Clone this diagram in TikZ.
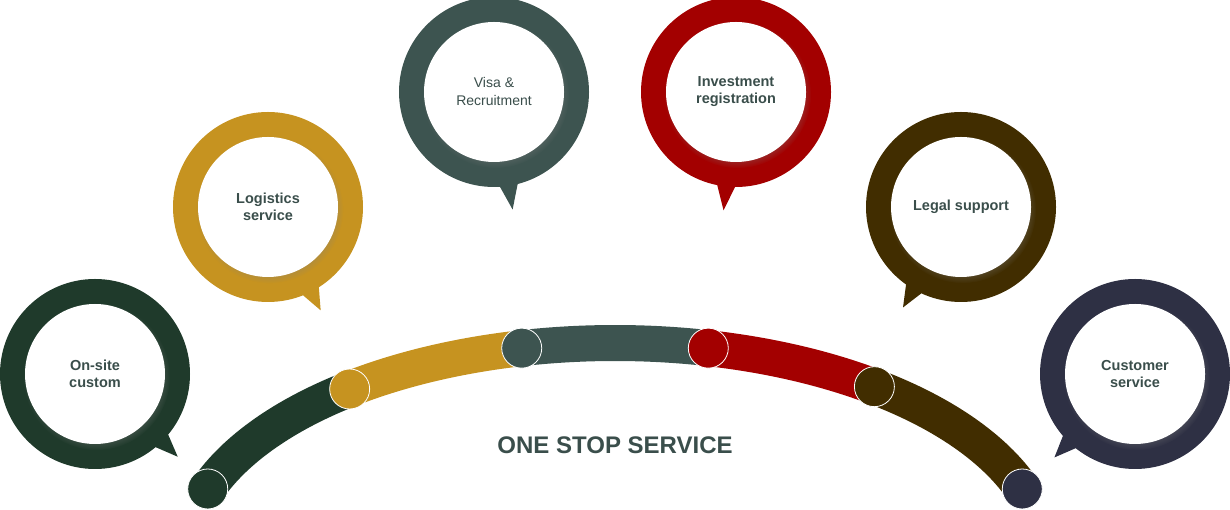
\documentclass[tikz,border=0pt]{standalone}
\usepackage{fontspec}
\setmainfont{Liberation Sans}
\usepackage{xcolor}
\definecolor{pine}{RGB}{31,58,43}
\definecolor{mustard}{RGB}{198,147,32}
\definecolor{slate}{RGB}{61,84,80}
\definecolor{crimson}{RGB}{163,0,0}
\definecolor{umber}{RGB}{65,45,0}
\definecolor{ink}{RGB}{46,48,68}
\definecolor{labelgray}{RGB}{58,78,75}
\usetikzlibrary{calc}
\usetikzlibrary{shadows}

\tikzset{
  hole/.style={circle,fill=white,minimum size=140pt,inner sep=0pt,align=center,
    text=labelgray,font=\fontsize{14.5}{17}\selectfont\bfseries,
    circular drop shadow={shadow xshift=1.5pt,shadow yshift=-2.5pt,shadow scale=1.05,opacity=0.4}},
  band/.style={line width=36pt},
  joint/.style={circle,minimum size=40pt,inner sep=0pt,draw=white,line width=0.8pt},
}

\begin{document}
\begin{tikzpicture}[x=1pt,y=1pt]
\useasboundingbox (0,0) rectangle (1230,510);
\clip (0,0) rectangle (1230,510);

% bubble centres
\coordinate (c1) at (95,136);
\coordinate (c2) at (268,303);
\coordinate (c3) at (494,418);
\coordinate (c4) at (736,418);
\coordinate (c5) at (961,303);
\coordinate (c6) at (1135,136);

% rings with tails
\fill[pine] (c1) circle (95pt) ($(c1)+(-51:93pt)$) -- ($(c1)+(-45:117pt)$) -- ($(c1)+(-39:93pt)$) -- cycle;
\fill[mustard] (c2) circle (95pt) ($(c2)+(-69:93pt)$) -- ($(c2)+(-63:116pt)$) -- ($(c2)+(-57:93pt)$) -- cycle;
\fill[slate] (c3) circle (95pt) ($(c3)+(-87:93pt)$) -- ($(c3)+(-81:119pt)$) -- ($(c3)+(-75:93pt)$) -- cycle;
\fill[crimson] (c4) circle (95pt) ($(c4)+(-102:93pt)$) -- ($(c4)+(-96:119pt)$) -- ($(c4)+(-90:93pt)$) -- cycle;
\fill[umber] (c5) circle (95pt) ($(c5)+(-126:93pt)$) -- ($(c5)+(-120:116pt)$) -- ($(c5)+(-114:93pt)$) -- cycle;
\fill[ink] (c6) circle (95pt) ($(c6)+(-140:93pt)$) -- ($(c6)+(-134:116pt)$) -- ($(c6)+(-128:93pt)$) -- cycle;

% labels
\node[hole] (onsite) at (c1) {On-site\\custom};
\node[hole] (logistics) at (c2) {Logistics\\service};
\node[hole,font=\fontsize{14}{18}\selectfont] (visa) at (c3) {Visa \&\\Recruitment};
\node[hole] (invest) at (c4) {Investment\\registration};
\node[hole] (legal) at (c5) {Legal support};
\node[hole] (customer) at (c6) {Customer\\service};

% the arc
\coordinate (arcc) at (615,-50);
\draw[band,pine] ($(arcc)+(160.9:431pt and 217pt)$) arc[start angle=160.9,end angle=128,x radius=431pt,y radius=217pt];
\draw[band,mustard] ($(arcc)+(128:431pt and 217pt)$) arc[start angle=128,end angle=102.5,x radius=431pt,y radius=217pt];
\draw[band,slate] ($(arcc)+(102.5:431pt and 217pt)$) arc[start angle=102.5,end angle=77.5,x radius=431pt,y radius=217pt];
\draw[band,crimson] ($(arcc)+(77.5:431pt and 217pt)$) arc[start angle=77.5,end angle=53,x radius=431pt,y radius=217pt];
\draw[band,umber] ($(arcc)+(53:431pt and 217pt)$) arc[start angle=53,end angle=19.1,x radius=431pt,y radius=217pt];

\node[joint,fill=pine] (j1) at ($(arcc)+(160.9:431pt and 217pt)$) {};
\node[joint,fill=mustard] (j2) at ($(arcc)+(128:431pt and 217pt)$) {};
\node[joint,fill=slate] (j3) at ($(arcc)+(102.5:431pt and 217pt)$) {};
\node[joint,fill=crimson] (j4) at ($(arcc)+(77.5:431pt and 217pt)$) {};
\node[joint,fill=umber] (j5) at ($(arcc)+(53:431pt and 217pt)$) {};
\node[joint,fill=ink] (j6) at ($(arcc)+(19.1:431pt and 217pt)$) {};

\node[text=labelgray,font=\fontsize{24}{28}\selectfont\bfseries] (title) at (615,65) {ONE STOP SERVICE};
\end{tikzpicture}
\end{document}
